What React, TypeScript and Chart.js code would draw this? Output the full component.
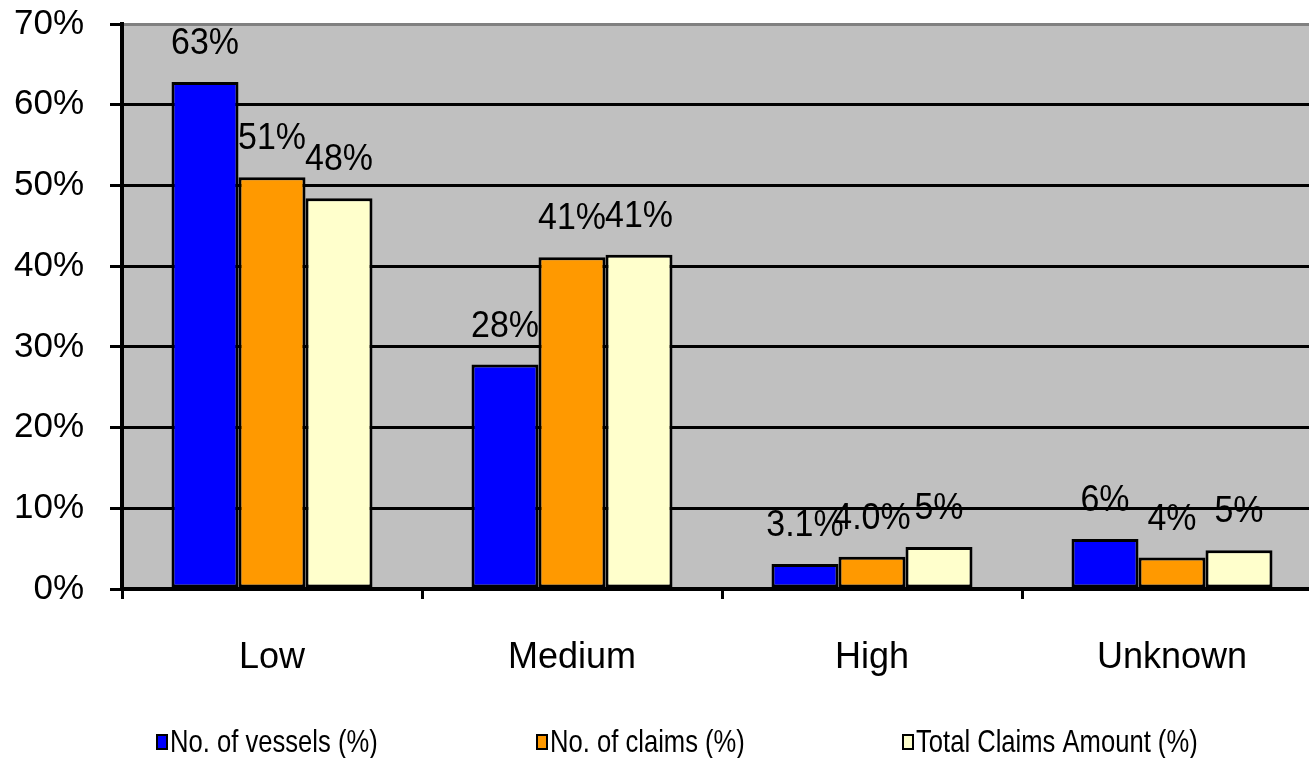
import { useEffect, useRef } from 'react';
import { Chart, registerables } from 'chart.js';

Chart.register(...registerables);

const categories = ['Low', 'Medium', 'High', 'Unknown'];
const vesselsPct = [62.8, 27.8, 3.1, 6.2];
const claimsPct = [51.0, 41.1, 4.0, 3.9];
const amountPct = [48.4, 41.4, 5.2, 4.8];
// decimals shown in each value label
const vesselsDecimals = [0, 0, 1, 0];
const claimsDecimals = [0, 0, 1, 0];
const amountDecimals = [0, 0, 0, 0];
const seriesNames = ['No. of vessels (%)', 'No. of claims (%)', 'Total Claims Amount (%)'];
const seriesColors = ['#0000FF', '#FF9900', '#FFFFCC'];
const yMax = 70;
const yStep = 10;

const FONT = "'Liberation Sans', Arial, sans-serif";

const plotBackground = {
  id: 'plotBackground',
  beforeDraw(chart: any) {
    const { ctx, chartArea } = chart;
    ctx.save();
    ctx.fillStyle = '#C0C0C0';
    ctx.fillRect(chartArea.left, chartArea.top, chartArea.right - chartArea.left, chartArea.bottom - chartArea.top);
    ctx.restore();
  },
};

const valueLabels = {
  id: 'valueLabels',
  afterDatasetsDraw(chart: any) {
    const { ctx } = chart;
    ctx.save();
    ctx.fillStyle = '#000';
    ctx.textAlign = 'center';
    ctx.textBaseline = 'alphabetic';
    chart.data.datasets.forEach((ds: any, i: number) => {
      const meta = chart.getDatasetMeta(i);
      meta.data.forEach((bar: any, j: number) => {
        const v = ds.data[j];
        const text = v.toFixed(ds.decimals[j]) + '%';
        ctx.save();
        ctx.translate(bar.x, bar.y - 28);
        ctx.scale(0.97, 1.08);
        ctx.font = `35px ${FONT}`;
        ctx.fillText(text, 0, 0);
        ctx.restore();
      });
    });
    ctx.restore();
  },
};

const bottomLegend = {
  id: 'bottomLegend',
  afterDraw(chart: any) {
    const { ctx } = chart;
    const xs = [157, 537, 903];
    const y = 742;
    ctx.save();
    chart.data.datasets.forEach((ds: any, i: number) => {
      const x = xs[i];
      ctx.fillStyle = ds.backgroundColor;
      ctx.fillRect(x, y - 7, 10, 14);
      ctx.lineWidth = 2;
      ctx.strokeStyle = '#000';
      ctx.strokeRect(x, y - 7, 10, 14);
      ctx.save();
      ctx.translate(x + 13, y);
      ctx.scale(0.8, 1);
      ctx.font = `32px ${FONT}`;
      ctx.fillStyle = '#000';
      ctx.textAlign = 'left';
      ctx.textBaseline = 'middle';
      ctx.fillText(ds.label, 0, 1);
      ctx.restore();
    });
    ctx.restore();
  },
};

export default function App() {
  const canvasRef = useRef<HTMLCanvasElement | null>(null);

  useEffect(() => {
    document.body.style.margin = '0';
    const canvas = canvasRef.current;
    if (!canvas) return;
    const series = [vesselsPct, claimsPct, amountPct];
    const decimals = [vesselsDecimals, claimsDecimals, amountDecimals];
    const chart = new Chart(canvas, {
      type: 'bar',
      data: {
        labels: categories,
        datasets: series.map((values, i) => ({
          label: seriesNames[i],
          data: values,
          decimals: decimals[i],
          backgroundColor: seriesColors[i],
          borderColor: '#000',
          borderWidth: 3,
          borderSkipped: false,
          categoryPercentage: 0.67,
          barPercentage: 1,
        })) as any,
      },
      options: {
        responsive: false,
        animation: false,
        layout: { padding: { top: 24, right: 8, left: 0, bottom: 0 } },
        plugins: {
          legend: { display: false },
          tooltip: { enabled: false },
        },
        scales: {
          x: {
            grid: {
              offset: true,
              drawOnChartArea: false,
              drawTicks: true,
              tickLength: 10,
              color: '#000',
              lineWidth: 3,
            },
            border: { color: '#000', width: 4 },
            ticks: {
              color: '#000',
              font: { family: FONT, size: 36 },
              padding: 37,
            },
            afterFit: (scale: any) => {
              scale.height = 169;
              scale.paddingLeft = 0;
              scale.paddingRight = 0;
            },
          },
          y: {
            min: 0,
            max: yMax,
            ticks: {
              stepSize: yStep,
              color: '#000',
              font: { family: FONT, size: 35 },
              padding: 26,
              callback: (v: any) => v + '%',
            },
            grid: {
              color: (c: any) => (c.tick && c.tick.value === yMax ? '#808080' : '#000'),
              lineWidth: 3,
              tickColor: '#000',
              tickLength: 12,
            },
            border: { color: '#000', width: 4 },
            afterFit: (scale: any) => {
              scale.width = 122;
              scale.paddingTop = 0;
              scale.paddingBottom = 0;
            },
          },
        },
      } as any,
      plugins: [plotBackground, valueLabels, bottomLegend],
    });
    return () => chart.destroy();
  }, []);

  return (
    <div style={{ width: 1309, height: 758, overflow: 'hidden', position: 'relative', background: '#fff' }}>
      <canvas ref={canvasRef} width={1330} height={758} style={{ display: 'block' }} />
    </div>
  );
}
